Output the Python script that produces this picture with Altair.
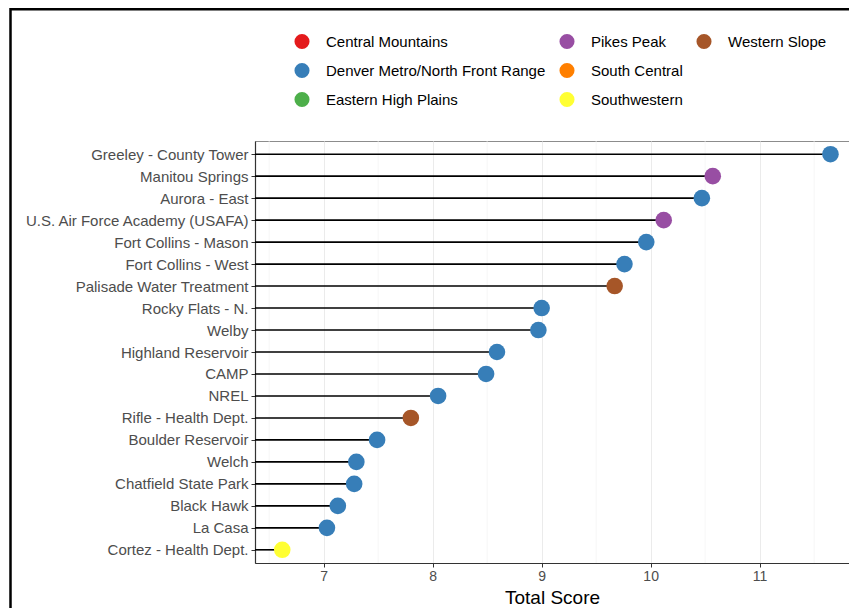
import altair as alt
import pandas as pd

sites = ["Greeley - County Tower", "Manitou Springs", "Aurora - East",
         "U.S. Air Force Academy (USAFA)", "Fort Collins - Mason", "Fort Collins - West",
         "Palisade Water Treatment", "Rocky Flats - N.", "Welby", "Highland Reservoir",
         "CAMP", "NREL", "Rifle - Health Dept.", "Boulder Reservoir", "Welch",
         "Chatfield State Park", "Black Hawk", "La Casa", "Cortez - Health Dept."]
scores = [11.65, 10.57, 10.47, 10.12, 9.96, 9.76, 9.67, 9.00, 8.97, 8.59,
          8.49, 8.05, 7.80, 7.49, 7.30, 7.28, 7.13, 7.03, 6.62]
regions = ["Denver Metro/North Front Range", "Pikes Peak", "Denver Metro/North Front Range",
           "Pikes Peak", "Denver Metro/North Front Range", "Denver Metro/North Front Range",
           "Western Slope", "Denver Metro/North Front Range", "Denver Metro/North Front Range",
           "Denver Metro/North Front Range", "Denver Metro/North Front Range",
           "Denver Metro/North Front Range", "Western Slope", "Denver Metro/North Front Range",
           "Denver Metro/North Front Range", "Denver Metro/North Front Range",
           "Denver Metro/North Front Range", "Denver Metro/North Front Range", "Southwestern"]

# legend entries in column order; the trailing blank entry completes the 3x3 grid
legend_domain = ["Central Mountains", "Denver Metro/North Front Range", "Eastern High Plains",
                 "Pikes Peak", "South Central", "Southwestern", "Western Slope", " "]
legend_colors = ["#E41A1C", "#377EB8", "#4DAF4A", "#984EA3", "#FF7F00", "#FFFF33", "#A65628",
                 "transparent"]

x_ticks = [7, 8, 9, 10, 11]
minor_grid = [6.5, 7.5, 8.5, 9.5, 10.5, 11.5]

FONT = "Liberation Sans, Arial, sans-serif"

df = pd.DataFrame({"site": sites, "score": scores, "region": regions})
grid_df = pd.DataFrame({"g": minor_grid})

xscale = alt.Scale(domain=[6.37, 11.82], nice=False, zero=False)
yscale = alt.Scale(type="point", padding=0.6)

minor = alt.Chart(grid_df).mark_rule(color="#f2f2f2", strokeWidth=0.7).encode(
    x=alt.X("g:Q", scale=xscale)
)

seg = alt.Chart(df).mark_rule(color="black", strokeWidth=1.6).encode(
    x=alt.X("score:Q", scale=xscale,
            axis=alt.Axis(values=x_ticks, format="d", title="Total Score", grid=True,
                          gridColor="#ebebeb", gridWidth=1,
                          tickColor="#333333", tickSize=4, tickWidth=1,
                          domainColor="#333333", domainWidth=1.2,
                          labelColor="#4d4d4d", labelFontSize=14, labelFont=FONT,
                          labelPadding=2,
                          titleFont=FONT, titleFontSize=19, titleFontWeight="normal",
                          titleColor="black", titleBaseline="alphabetic", titleY=40)),
    x2=alt.value(0),
    y=alt.Y("site:N", sort=sites, scale=yscale,
            axis=alt.Axis(title=None, grid=False, tickColor="#333333", tickSize=4,
                          domainColor="#333333", domainWidth=1.2,
                          labelColor="#4d4d4d", labelFontSize=15, labelFont=FONT,
                          labelPadding=3, labelLimit=400)),
)

pts = alt.Chart(df).mark_circle(size=275, opacity=1).encode(
    x=alt.X("score:Q", scale=xscale),
    y=alt.Y("site:N", sort=sites, scale=yscale),
    color=alt.Color("region:N",
                    scale=alt.Scale(domain=legend_domain, range=legend_colors),
                    legend=alt.Legend(title=None, orient="none", legendX=39, legendY=-107.5,
                                      columns=3, columnPadding=13, rowPadding=13,
                                      symbolType="circle", symbolSize=227,
                                      symbolStrokeWidth=0, symbolOpacity=1,
                                      labelFont=FONT, labelFontSize=15, labelColor="black",
                                      labelOffset=16, labelLimit=400, padding=0)),
)

frame = alt.Chart(alt.Data(values=[{"f": 1}])).mark_rect(
    fill="transparent", stroke="black", strokeWidth=2.5
).encode(
    x=alt.value(-244.5), x2=alt.value(700), y=alt.value(-131.8), y2=alt.value(700)
)

chart = alt.layer(minor, seg, pts, frame).properties(
    width=594, height=422,
    padding={"left": 247, "top": 133, "right": 0, "bottom": 45},
    autosize=alt.AutoSizeParams(type="none"),
    background="white",
).configure_view(stroke="#8c8c8c", strokeWidth=1)

chart.save("out.html", embed_options={"renderer": "svg", "actions": False})
